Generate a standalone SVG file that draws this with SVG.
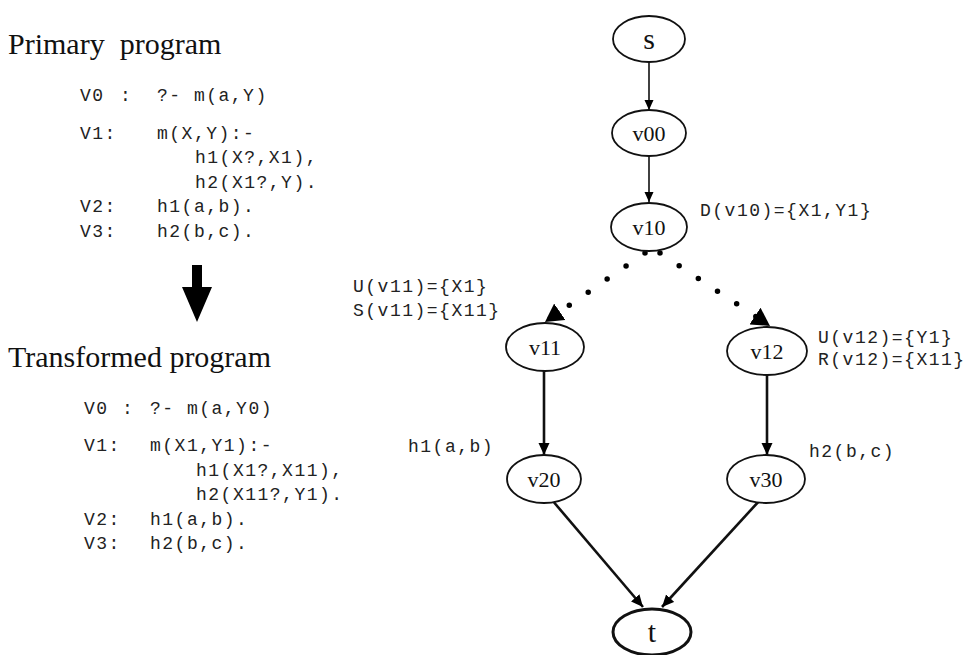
<svg xmlns="http://www.w3.org/2000/svg" width="970" height="655" viewBox="0 0 970 655">
<style>
.title{font-family:"Liberation Serif","Times New Roman",serif;font-size:30px;fill:#111}
.code{font-family:"Liberation Mono","Courier New",monospace;font-size:18px;letter-spacing:1.5px;fill:#222}
.lbl{font-family:"Liberation Mono","Courier New",monospace;font-size:18px;letter-spacing:1.5px;fill:#222}
.nd{fill:#fff;stroke:#111;stroke-width:1.8}
.ndb{fill:#fff;stroke:#111;stroke-width:3}
.nt{font-family:"Liberation Serif","Times New Roman",serif;font-size:22px;fill:#111;text-anchor:middle}
.ntb{font-family:"Liberation Serif","Times New Roman",serif;font-size:30px;fill:#111;text-anchor:middle}
.e{fill:none;stroke:#111;stroke-width:1.6}
.e2{fill:none;stroke:#111;stroke-width:2.6}
.dot{fill:none;stroke:#000;stroke-width:5.5;stroke-linecap:round;stroke-dasharray:0 23}
</style>
<defs>
<marker id="ah" viewBox="0 0 10 10" refX="10" refY="5" markerWidth="10" markerHeight="10" markerUnits="userSpaceOnUse" orient="auto">
<path d="M0,0.5 L10,5 L0,9.5 z" fill="#000"/>
</marker>
<marker id="ahb" viewBox="0 0 12 12" refX="12" refY="6" markerWidth="12" markerHeight="12" markerUnits="userSpaceOnUse" orient="auto">
<path d="M0,0.5 L12,6 L0,11.5 z" fill="#000"/>
</marker>
<marker id="big" viewBox="0 0 18 20" refX="18" refY="10" markerWidth="18" markerHeight="20" markerUnits="userSpaceOnUse" orient="auto">
<path d="M0,0 L18,10 L0,20 z" fill="#000"/>
</marker>
</defs>

<g id="primary-program">
<text class="title" x="8" y="54" xml:space="preserve">Primary  program</text>
<text class="code" x="80" y="101">V0</text><text class="code" x="120" y="101">:</text><text class="code" x="157" y="101">?- m(a,Y)</text>
<text class="code" x="80" y="139">V1:</text><text class="code" x="157" y="139">m(X,Y):-</text>
<text class="code" x="195" y="163">h1(X?,X1),</text>
<text class="code" x="195" y="188">h2(X1?,Y).</text>
<text class="code" x="80" y="212">V2:</text><text class="code" x="157" y="212">h1(a,b).</text>
<text class="code" x="80" y="237">V3:</text><text class="code" x="157" y="237">h2(b,c).</text>
</g>

<g id="transform-arrow">
<polygon points="192,265 202,265 202,287 212,287 197,322 182,287 192,287" fill="#000"/>
</g>

<g id="transformed-program">
<text class="title" x="8" y="367">Transformed program</text>
<text class="code" x="84" y="414">V0</text><text class="code" x="122" y="414">:</text><text class="code" x="150" y="414">?- m(a,Y0)</text>
<text class="code" x="84" y="451">V1:</text><text class="code" x="150" y="451">m(X1,Y1):-</text>
<text class="code" x="196" y="476">h1(X1?,X11),</text>
<text class="code" x="196" y="500">h2(X11?,Y1).</text>
<text class="code" x="84" y="525">V2:</text><text class="code" x="150" y="525">h1(a,b).</text>
<text class="code" x="84" y="549">V3:</text><text class="code" x="150" y="549">h2(b,c).</text>
</g>

<g id="connectors">
<line class="e" x1="649" y1="62" x2="649" y2="110" marker-end="url(#ah)"/>
<line class="e" x1="649" y1="156" x2="649" y2="202" marker-end="url(#ah)"/>
<path class="dot" d="M645,253 L545,322" marker-end="url(#big)"/>
<path class="dot" d="M660,253 L770,326" marker-end="url(#big)"/>
<line class="e2" x1="544" y1="370" x2="544" y2="455" marker-end="url(#ahb)"/>
<line class="e2" x1="767" y1="374" x2="767" y2="455" marker-end="url(#ahb)"/>
<line class="e2" x1="552" y1="500" x2="643" y2="607" marker-end="url(#ahb)"/>
<line class="e2" x1="760" y1="500" x2="662" y2="607" marker-end="url(#ahb)"/>
</g>

<g id="node-s"><ellipse class="nd" cx="649" cy="39" rx="36" ry="23"/><text class="ntb" x="649" y="49">s</text></g>
<g id="node-v00"><ellipse class="nd" cx="649" cy="133" rx="37" ry="23"/><text class="nt" x="649" y="141">v00</text></g>
<g id="node-v10"><ellipse class="nd" cx="649" cy="227" rx="38" ry="24"/><text class="nt" x="649" y="235">v10</text>
<text class="lbl" x="700" y="216">D(v10)={X1,Y1}</text></g>
<g id="node-v11"><ellipse class="nd" cx="545" cy="347" rx="39" ry="24"/><text class="nt" x="545" y="355">v11</text>
<text class="lbl" x="353" y="292">U(v11)={X1}</text>
<text class="lbl" x="353" y="316">S(v11)={X11}</text></g>
<g id="node-v12"><ellipse class="nd" cx="767" cy="351" rx="40" ry="24"/><text class="nt" x="767" y="359">v12</text>
<text class="lbl" x="818" y="343">U(v12)={Y1}</text>
<text class="lbl" x="818" y="365">R(v12)={X11}</text></g>
<g id="node-v20"><ellipse class="nd" cx="544" cy="479" rx="37" ry="24"/><text class="nt" x="544" y="487">v20</text>
<text class="lbl" x="408" y="452">h1(a,b)</text></g>
<g id="node-v30"><ellipse class="nd" cx="766" cy="479" rx="39" ry="24"/><text class="nt" x="766" y="487">v30</text>
<text class="lbl" x="809" y="457">h2(b,c)</text></g>
<g id="node-t"><ellipse class="ndb" cx="652" cy="632" rx="39" ry="23"/><text class="ntb" x="652" y="642">t</text></g>
</svg>
